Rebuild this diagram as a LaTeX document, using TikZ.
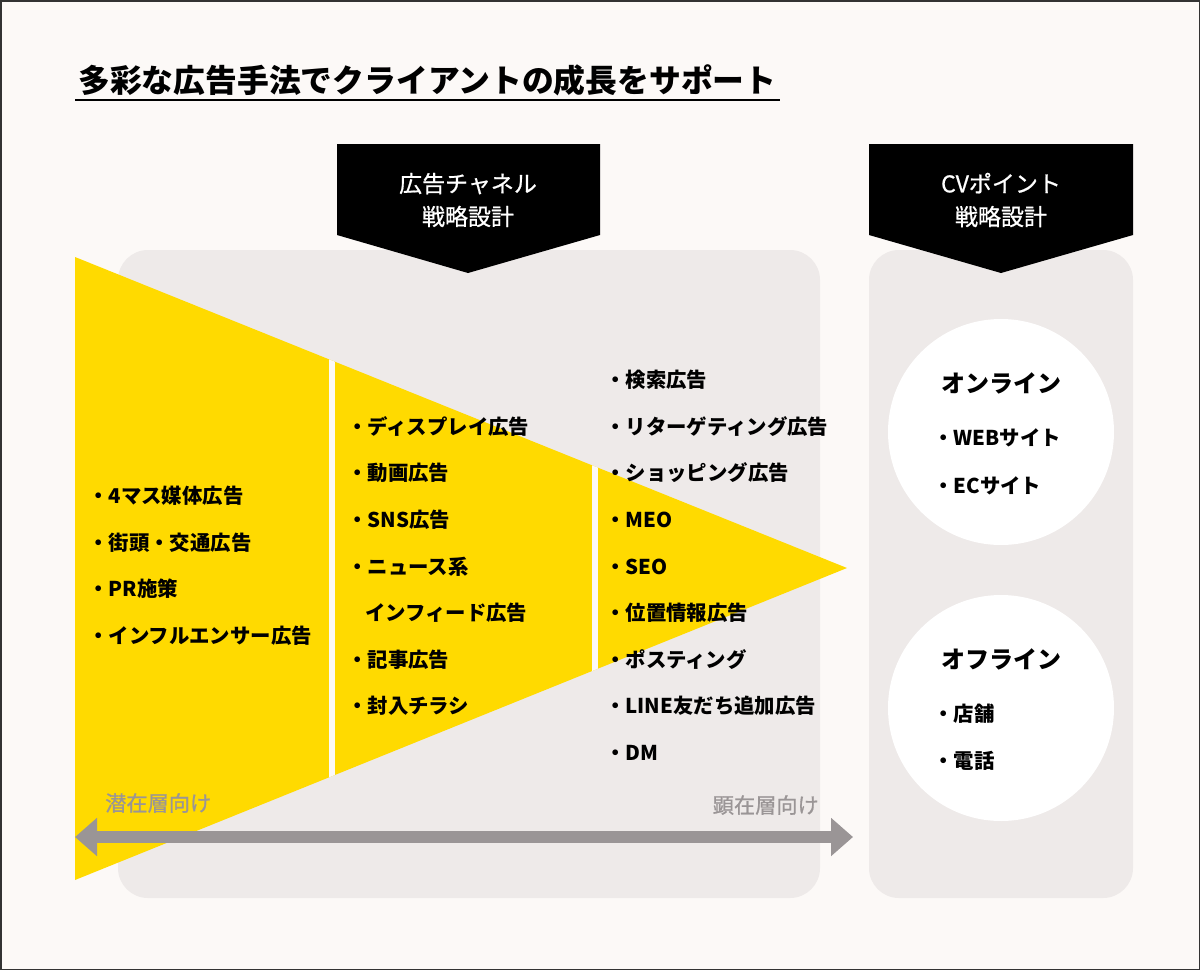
\documentclass[tikz,border=0pt]{standalone}
\usepackage{fontspec}
\setmainfont{Noto Sans CJK JP}
\newfontfamily\jpmedium[FakeBold=0.8]{Noto Sans CJK JP}
\usetikzlibrary{arrows.meta}

\definecolor{bgcream}{HTML}{FCF9F7}
\definecolor{boxgray}{HTML}{EEEAE9}
\definecolor{tryellow}{HTML}{FFDA00}
\definecolor{arrowgray}{HTML}{9A9596}
\definecolor{framegray}{HTML}{333333}

\tikzset{
  listitem/.style={anchor=west, inner sep=0pt, font=\fontsize{20.4}{24}\selectfont\bfseries},
  bannertext/.style={align=center, text=white, inner sep=0pt, font=\fontsize{23}{33}\selectfont\jpmedium},
  headtext/.style={inner sep=0pt, font=\fontsize{24}{28}\selectfont\bfseries},
  sidelabel/.style={inner sep=0pt, text=arrowgray, font=\fontsize{21.2}{24}\selectfont\jpmedium},
  cvcircle/.style={circle, fill=white, minimum size=226pt, inner sep=0pt}
}

\begin{document}
\begin{tikzpicture}[x=1pt,y=-1pt]
\useasboundingbox (0,0) rectangle (1200,970);
\fill [bgcream] (0,0) rectangle (1200,970);
\draw [framegray, line width=1.5pt] (0.75,0.75) rectangle (1199.25,969.25);

% title
\node [anchor=west, inner sep=0pt, font=\fontsize{31.8}{36}\selectfont\bfseries] (title) at (78,80) {多彩な広告手法でクライアントの成長をサポート};
\draw [black, line width=1.5pt] (75,100) -- (780,100);

% gray panels
\fill [boxgray, rounded corners=30pt] (118,250) rectangle (820,898);
\fill [boxgray, rounded corners=30pt] (869,250) rectangle (1133,898);

% banners
\fill [black] (337,144) -- (600,144) -- (600,235) -- (468,273) -- (337,235) -- cycle;
\node [bannertext] (chbanner) at (468,200) {広告チャネル\\戦略設計};
\fill [black] (869,144) -- (1133,144) -- (1133,235) -- (1001,273) -- (869,235) -- cycle;
\node [bannertext] (cvbanner) at (1001,200) {CVポイント\\戦略設計};

% funnel
\fill [tryellow] (75,257) -- (847,568) -- (75,880) -- cycle;
\begin{scope}
\clip (75,257) -- (847,568) -- (75,880) -- cycle;
\draw [bgcream, line width=6pt] (332,250) -- (332,900);
\draw [bgcream, line width=6pt] (595,250) -- (595,900);
\end{scope}

% lists
\foreach \y/\txt [count=\i] in {496/・4マス媒体広告, 543/・街頭・交通広告, 589/・PR施策, 636/・インフルエンサー広告}
  \node [listitem] (mass\i) at (88,\y) {\txt};
\foreach \y/\txt [count=\i] in {427/・ディスプレイ広告, 473/・動画広告, 520/・SNS広告, 567/・ニュース系, 660/・記事広告, 706/・封入チラシ}
  \node [listitem] (mid\i) at (347,\y) {\txt};
\node [listitem] (midcont) at (365,613) {インフィード広告};
\foreach \y/\txt [count=\i] in {380/・検索広告, 427/・リターゲティング広告, 473/・ショッピング広告, 520/・MEO, 567/・SEO, 613/・位置情報広告, 660/・ポスティング, 706/・LINE友だち追加広告, 753/・DM}
  \node [listitem] (near\i) at (605,\y) {\txt};

% axis
\coordinate (axisL) at (75,837);
\coordinate (axisR) at (853,837);
\draw [arrowgray, line width=12pt, {Triangle[width=37pt,length=22pt]}-{Triangle[width=37pt,length=22pt]}] (axisL) -- (axisR);
\node [sidelabel, anchor=west] (latent) at (105,803) {潜在層向け};
\node [sidelabel, anchor=east] (manifest) at (819,805) {顕在層向け};

% cv points
\node [cvcircle] (online) at (1001,432) {};
\node [cvcircle] (offline) at (1001,708) {};
\node [headtext] (onhead) at (1001,383) {オンライン};
\node [listitem] (on1) at (933,438) {・WEBサイト};
\node [listitem] (on2) at (933,486) {・ECサイト};
\node [headtext] (offhead) at (1001,659) {オフライン};
\node [listitem] (off1) at (933,714) {・店舗};
\node [listitem] (off2) at (933,761) {・電話};
\end{tikzpicture}
\end{document}
